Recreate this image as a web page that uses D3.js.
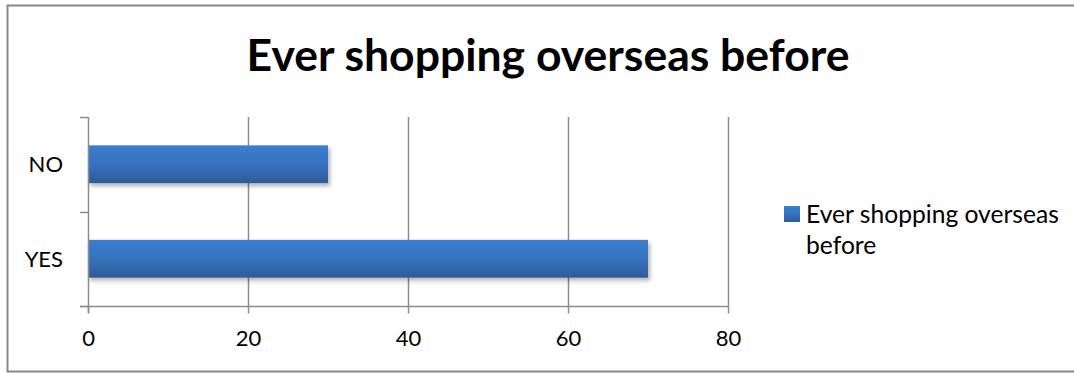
<!DOCTYPE html>
<html>
<head>
<meta charset="utf-8">
<script src="https://cdn.jsdelivr.net/npm/d3@7"></script>
<style>
  html, body { margin: 0; padding: 0; background: #fff; }
  svg { display: block; font-family: Lato, "Open Sans", sans-serif; }
</style>
</head>
<body>
<svg id="chart" width="1074" height="373"></svg>
<script>
// Survey answers and counts
const categories = ["NO", "YES"];
const values = [30, 70];
const seriesName = "Ever shopping overseas before";
const titleText = "Ever shopping overseas before";
const xTicks = [0, 20, 40, 60, 80];

const svg = d3.select("#chart");
const W = 1074, H = 373;
const plot = { left: 88, right: 728, top: 117, bottom: 306 };

// chart frame (right edge runs past the page)
svg.append("rect")
  .attr("x", 7.5).attr("y", 5.5)
  .attr("width", W + 10).attr("height", 366)
  .attr("fill", "#fff").attr("stroke", "#888").attr("stroke-width", 2);

// gradients and shadow
const defs = svg.append("defs");
const grad = defs.append("linearGradient").attr("id", "barGrad")
  .attr("x1", 0).attr("y1", 0).attr("x2", 0).attr("y2", 1);
grad.append("stop").attr("offset", "0%").attr("stop-color", "#3c7dcf");
grad.append("stop").attr("offset", "50%").attr("stop-color", "#3772bf");
grad.append("stop").attr("offset", "100%").attr("stop-color", "#2d5b98");
const shadow = defs.append("filter").attr("id", "barShadow")
  .attr("x", "-5%").attr("y", "-20%").attr("width", "115%").attr("height", "160%");
shadow.append("feDropShadow")
  .attr("dx", 2).attr("dy", 3).attr("stdDeviation", 2)
  .attr("flood-color", "#000").attr("flood-opacity", 0.3);

// scales
const x = d3.scaleLinear().domain([0, 80]).range([plot.left, plot.right]);
const y = d3.scaleBand().domain(categories)
  .range([plot.top, plot.bottom]).paddingInner(0.6).paddingOuter(0.3);

// vertical gridlines
svg.append("g").selectAll("line")
  .data(xTicks.filter(d => d > 0))
  .join("line")
  .attr("x1", d => Math.round(x(d)) + 0.5).attr("x2", d => Math.round(x(d)) + 0.5)
  .attr("y1", plot.top).attr("y2", plot.bottom)
  .attr("stroke", "#8c8c8c").attr("stroke-width", 1.5);

// bars
svg.append("g").selectAll("rect")
  .data(categories.map((c, i) => ({ c, v: values[i] })))
  .join("rect")
  .attr("x", x(0))
  .attr("y", d => y(d.c))
  .attr("width", d => x(d.v) - x(0))
  .attr("height", y.bandwidth())
  .attr("fill", "url(#barGrad)")
  .attr("filter", "url(#barShadow)");

// x axis
const xAxis = d3.axisBottom(x).tickValues(xTicks).tickSize(7).tickPadding(17);
const gx = svg.append("g")
  .attr("transform", `translate(0,${plot.bottom + 0.5})`)
  .call(xAxis);
gx.select(".domain").attr("stroke", "#8c8c8c").attr("stroke-width", 1.5)
  .attr("d", `M${plot.left - 8},0H${plot.right + 0.5}`);
gx.selectAll(".tick line").attr("stroke", "#8c8c8c").attr("stroke-width", 1.5);
gx.selectAll(".tick text").attr("fill", "#000")
  .style("font-size", "22px").style("font-family", "Lato, 'Open Sans', sans-serif");

// y axis: ticks sit on category boundaries
const ga = svg.append("g");
ga.append("line")
  .attr("x1", plot.left + 0.5).attr("x2", plot.left + 0.5)
  .attr("y1", plot.top).attr("y2", plot.bottom + 7)
  .attr("stroke", "#8c8c8c").attr("stroke-width", 1.5);
const boundaries = [plot.top, (plot.top + plot.bottom) / 2, plot.bottom];
ga.selectAll("line.tk").data(boundaries).join("line").attr("class", "tk")
  .attr("x1", plot.left - 8).attr("x2", plot.left)
  .attr("y1", d => Math.round(d) + 0.5).attr("y2", d => Math.round(d) + 0.5)
  .attr("stroke", "#8c8c8c").attr("stroke-width", 1.5);
ga.selectAll("text").data(categories).join("text")
  .attr("x", 63).attr("y", d => y(d) + y.bandwidth() / 2)
  .attr("dy", "0.36em").attr("text-anchor", "end")
  .style("font-size", "22px").attr("fill", "#000")
  .text(d => d);

// title, fitted to its width
const title = svg.append("text")
  .attr("x", 548).attr("y", 71).attr("text-anchor", "middle")
  .style("font-weight", "bold").style("font-size", "40px").attr("fill", "#000")
  .text(titleText);
const tw = title.node().getComputedTextLength();
title.style("font-size", (40 * 603 / tw).toFixed(2) + "px");

// legend
const lg = svg.append("g");
lg.append("rect").attr("x", 784).attr("y", 206).attr("width", 16).attr("height", 16)
  .attr("fill", "url(#barGrad)");
const words = seriesName.split(" ");
const line1 = words.slice(0, 3).join(" "), line2 = words.slice(3).join(" ");
const lt = lg.append("text").attr("x", 806).attr("y", 223)
  .style("font-size", "20px").attr("fill", "#000");
lt.append("tspan").attr("x", 806).text(line1);
lt.append("tspan").attr("x", 806).attr("dy", 31).text(line2);
const l1w = lt.select("tspan").node().getComputedTextLength();
lt.style("font-size", (20 * 253 / l1w).toFixed(2) + "px");
</script>
</body>
</html>
